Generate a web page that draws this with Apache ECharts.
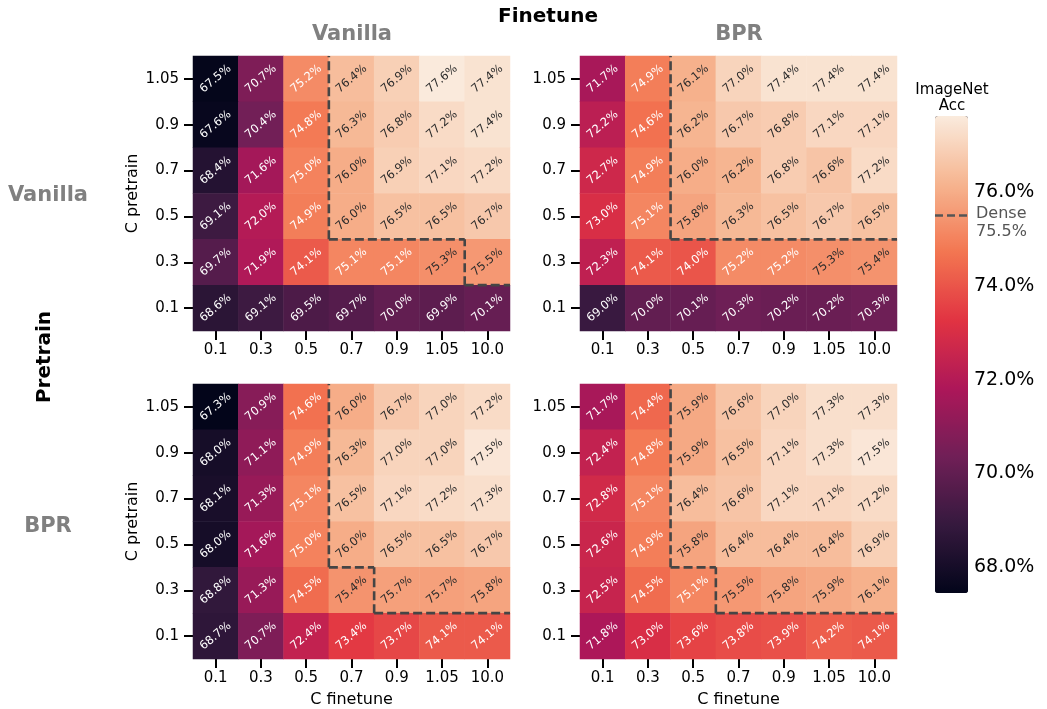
<!DOCTYPE html>
<html>
<head>
<meta charset="utf-8">
<title>ImageNet accuracy vs C</title>
<script src="https://cdn.jsdelivr.net/npm/echarts/dist/echarts.min.js"></script>
<style>
  html, body { margin: 0; padding: 0; background: #fff; }
  #chart { width: 1047px; height: 709px; }
</style>
</head>
<body>
<div id="chart"></div>
<script>
// C values of the finetune (x) and pretrain (y, bottom to top) sweeps
const finetuneC = ['0.1', '0.3', '0.5', '0.7', '0.9', '1.05', '10.0'];
const pretrainC = ['0.1', '0.3', '0.5', '0.7', '0.9', '1.05'];

// ImageNet accuracy (%), rows from C pretrain = 1.05 (top) down to 0.1
const accPreVanillaFtVanilla = [
  [67.5, 70.7, 75.2, 76.4, 76.9, 77.6, 77.4],
  [67.6, 70.4, 74.8, 76.3, 76.8, 77.2, 77.4],
  [68.4, 71.6, 75.0, 76.0, 76.9, 77.1, 77.2],
  [69.1, 72.0, 74.9, 76.0, 76.5, 76.5, 76.7],
  [69.7, 71.9, 74.1, 75.1, 75.1, 75.3, 75.5],
  [68.6, 69.1, 69.5, 69.7, 70.0, 69.9, 70.1]
];
const accPreVanillaFtBPR = [
  [71.7, 74.9, 76.1, 77.0, 77.4, 77.4, 77.4],
  [72.2, 74.6, 76.2, 76.7, 76.8, 77.1, 77.1],
  [72.7, 74.9, 76.0, 76.2, 76.8, 76.6, 77.2],
  [73.0, 75.1, 75.8, 76.3, 76.5, 76.7, 76.5],
  [72.3, 74.1, 74.0, 75.2, 75.2, 75.3, 75.4],
  [69.0, 70.0, 70.1, 70.3, 70.2, 70.2, 70.3]
];
const accPreBPRFtVanilla = [
  [67.3, 70.9, 74.6, 76.0, 76.7, 77.0, 77.2],
  [68.0, 71.1, 74.9, 76.3, 77.0, 77.0, 77.5],
  [68.1, 71.3, 75.1, 76.5, 77.1, 77.2, 77.3],
  [68.0, 71.6, 75.0, 76.0, 76.5, 76.5, 76.7],
  [68.8, 71.3, 74.5, 75.4, 75.7, 75.7, 75.8],
  [68.7, 70.7, 72.4, 73.4, 73.7, 74.1, 74.1]
];
const accPreBPRFtBPR = [
  [71.7, 74.4, 75.9, 76.6, 77.0, 77.3, 77.3],
  [72.4, 74.8, 75.9, 76.5, 77.1, 77.3, 77.5],
  [72.8, 75.1, 76.4, 76.6, 77.1, 77.1, 77.2],
  [72.6, 74.9, 75.8, 76.4, 76.4, 76.4, 76.9],
  [72.5, 74.5, 75.1, 75.5, 75.8, 75.9, 76.1],
  [71.8, 73.0, 73.6, 73.8, 73.9, 74.2, 74.1]
];

// dense baseline accuracy (%)
const denseAcc = 75.5;

// colour bar range and tick values (%)
const cbarMin = 67.45;
const cbarMax = 77.62;
const cbarTicks = [68, 70, 72, 74, 76];

const panelTitles = ['Vanilla', 'BPR'];

const FONT = 'DejaVu Sans';
// "rocket" colour map stops
const rocket = ['#03051a', '#35193e', '#701f57', '#ad1759', '#e13342', '#f37651', '#f6b48f', '#faebdd'];

const panels = [accPreVanillaFtVanilla, accPreVanillaFtBPR, accPreBPRFtVanilla, accPreBPRFtBPR];
const gridPos = [[193, 56], [580, 56], [193, 384], [580, 384]];
const GW = 317, GH = 275;

function heatData(rows) {
  const out = [];
  const nY = rows.length;
  rows.forEach((row, r) => {
    row.forEach((v, x) => {
      out.push({
        value: [x, nY - 1 - r, v],
        label: { color: v < 75.25 ? '#ffffff' : '#2b2b2b' }
      });
    });
  });
  return out;
}

// Edges between cells on either side of the dense accuracy, merged into runs
function denseBoundary(rows) {
  const nY = rows.length, nX = rows[0].length;
  const inside = (x, y) => rows[nY - 1 - y][x] >= denseAcc;
  const segs = [];
  for (let k = 1; k < nX; k++) {
    let start = null;
    for (let y = 0; y <= nY; y++) {
      const edge = y < nY && inside(k - 1, y) !== inside(k, y);
      if (edge && start === null) start = y;
      if (!edge && start !== null) {
        segs.push([0, 0, k - 0.5, start - 0.5, k - 0.5, y - 0.5]);
        start = null;
      }
    }
  }
  for (let k = 1; k < nY; k++) {
    let start = null;
    for (let x = 0; x <= nX; x++) {
      const edge = x < nX && inside(x, k - 1) !== inside(x, k);
      if (edge && start === null) start = x;
      if (!edge && start !== null) {
        segs.push([0, 0, start - 0.5, k - 0.5, x - 0.5, k - 0.5]);
        start = null;
      }
    }
  }
  return segs;
}

const grids = [], xAxes = [], yAxes = [], series = [];

panels.forEach((rows, i) => {
  grids.push({ left: gridPos[i][0], top: gridPos[i][1], width: GW, height: GH });
  const tick = { show: true, alignWithLabel: true, length: 9, lineStyle: { color: '#000', width: 2 } };
  xAxes.push({
    type: 'category', gridIndex: i, data: finetuneC,
    axisLine: { show: false }, axisTick: tick, splitLine: { show: false },
    axisLabel: { interval: 0, fontSize: 15, color: '#000', margin: 12, fontFamily: FONT },
    name: i >= 2 ? 'C finetune' : '', nameLocation: 'middle', nameGap: 33,
    nameTextStyle: { fontSize: 16, color: '#000', fontFamily: FONT }
  });
  yAxes.push({
    type: 'category', gridIndex: i, data: pretrainC,
    axisLine: { show: false }, axisTick: tick, splitLine: { show: false },
    axisLabel: { interval: 0, fontSize: 15, color: '#000', margin: 14, fontFamily: FONT },
    name: i % 2 === 0 ? 'C pretrain' : '', nameLocation: 'middle', nameGap: 52,
    nameTextStyle: { fontSize: 16, color: '#000', fontFamily: FONT }
  });
});

panels.forEach((rows, i) => {
  series.push({
    type: 'heatmap', xAxisIndex: i, yAxisIndex: i,
    data: heatData(rows),
    itemStyle: { borderWidth: 0 },
    label: {
      show: true, rotate: 40, fontSize: 11.5, fontFamily: FONT,
      formatter: p => p.value[2].toFixed(1) + '%'
    },
    emphasis: { disabled: true },
    silent: true
  });
});

panels.forEach((rows, i) => {
  series.push({
    type: 'custom', xAxisIndex: i, yAxisIndex: i,
    data: denseBoundary(rows),
    encode: { x: 0, y: 1 },
    z: 5, silent: true,
    renderItem: (params, api) => {
      const o = api.coord([0, 0]);
      const s = api.size([1, 1]);
      return {
        type: 'line',
        shape: {
          x1: o[0] + api.value(2) * s[0], y1: o[1] - api.value(3) * s[1],
          x2: o[0] + api.value(4) * s[0], y2: o[1] - api.value(5) * s[1]
        },
        style: { stroke: '#454545', lineWidth: 2.6, lineDash: [9, 4] }
      };
    }
  });
});

// colour bar axis and dense marker
grids.push({ left: 935, top: 116, width: 33, height: 477 });
xAxes.push({ type: 'value', gridIndex: 4, min: 0, max: 1, show: false });
yAxes.push({
  type: 'value', gridIndex: 4, min: cbarMin, max: cbarMax, position: 'right',
  axisLine: { show: false }, splitLine: { show: false },
  axisTick: { show: true, customValues: cbarTicks, length: 8, lineStyle: { color: '#000', width: 2 } },
  axisLabel: {
    customValues: cbarTicks, fontSize: 19, color: '#000', margin: 6, fontFamily: FONT,
    formatter: v => v.toFixed(1) + '%'
  }
});
series.push({
  type: 'line', xAxisIndex: 4, yAxisIndex: 4,
  data: [[0, denseAcc], [1, denseAcc]],
  symbol: 'none', silent: true, z: 10,
  lineStyle: { color: '#555', width: 2.6, type: [8, 4] },
  endLabel: {
    show: true, distance: 8, offset: [0, 7],
    formatter: 'Dense\n' + denseAcc.toFixed(1) + '%',
    color: '#555', fontSize: 16, lineHeight: 18, fontFamily: FONT, align: 'left'
  }
});

const titleText = (text, x, y, size, color, rot) => ({
  type: 'text', x: x, y: y, rotation: rot || 0,
  style: { text: text, font: 'bold ' + size + 'px "' + FONT + '"', fill: color, align: 'center', verticalAlign: 'middle' }
});

const chart = echarts.init(document.getElementById('chart'), null, { renderer: 'canvas' });
chart.setOption({
  animation: false,
  backgroundColor: '#fff',
  textStyle: { fontFamily: FONT },
  grid: grids, xAxis: xAxes, yAxis: yAxes,
  visualMap: {
    type: 'continuous', seriesIndex: [0, 1, 2, 3], dimension: 2,
    min: cbarMin, max: cbarMax, calculable: false, hoverLink: false,
    orient: 'vertical', left: 935, top: 116, itemWidth: 33, itemHeight: 477, padding: 0, z: 1,
    inRange: { color: rocket },
    outOfRange: { color: [rocket[0]] }
  },
  series: series,
  graphic: [
    titleText('Finetune', 548, 17, 20, '#000'),
    titleText(panelTitles[0], 352, 35, 21, '#808080'),
    titleText(panelTitles[1], 739, 35, 21, '#808080'),
    titleText(panelTitles[0], 48, 196, 21, '#808080'),
    titleText(panelTitles[1], 48, 527, 21, '#808080'),
    titleText('Pretrain', 45, 357, 20, '#000', Math.PI / 2),
    {
      type: 'text', x: 952, y: 98,
      style: { text: 'ImageNet\nAcc', font: '15px "' + FONT + '"', lineHeight: 16, fill: '#000', align: 'center', verticalAlign: 'middle' }
    }
  ]
});
</script>
</body>
</html>
